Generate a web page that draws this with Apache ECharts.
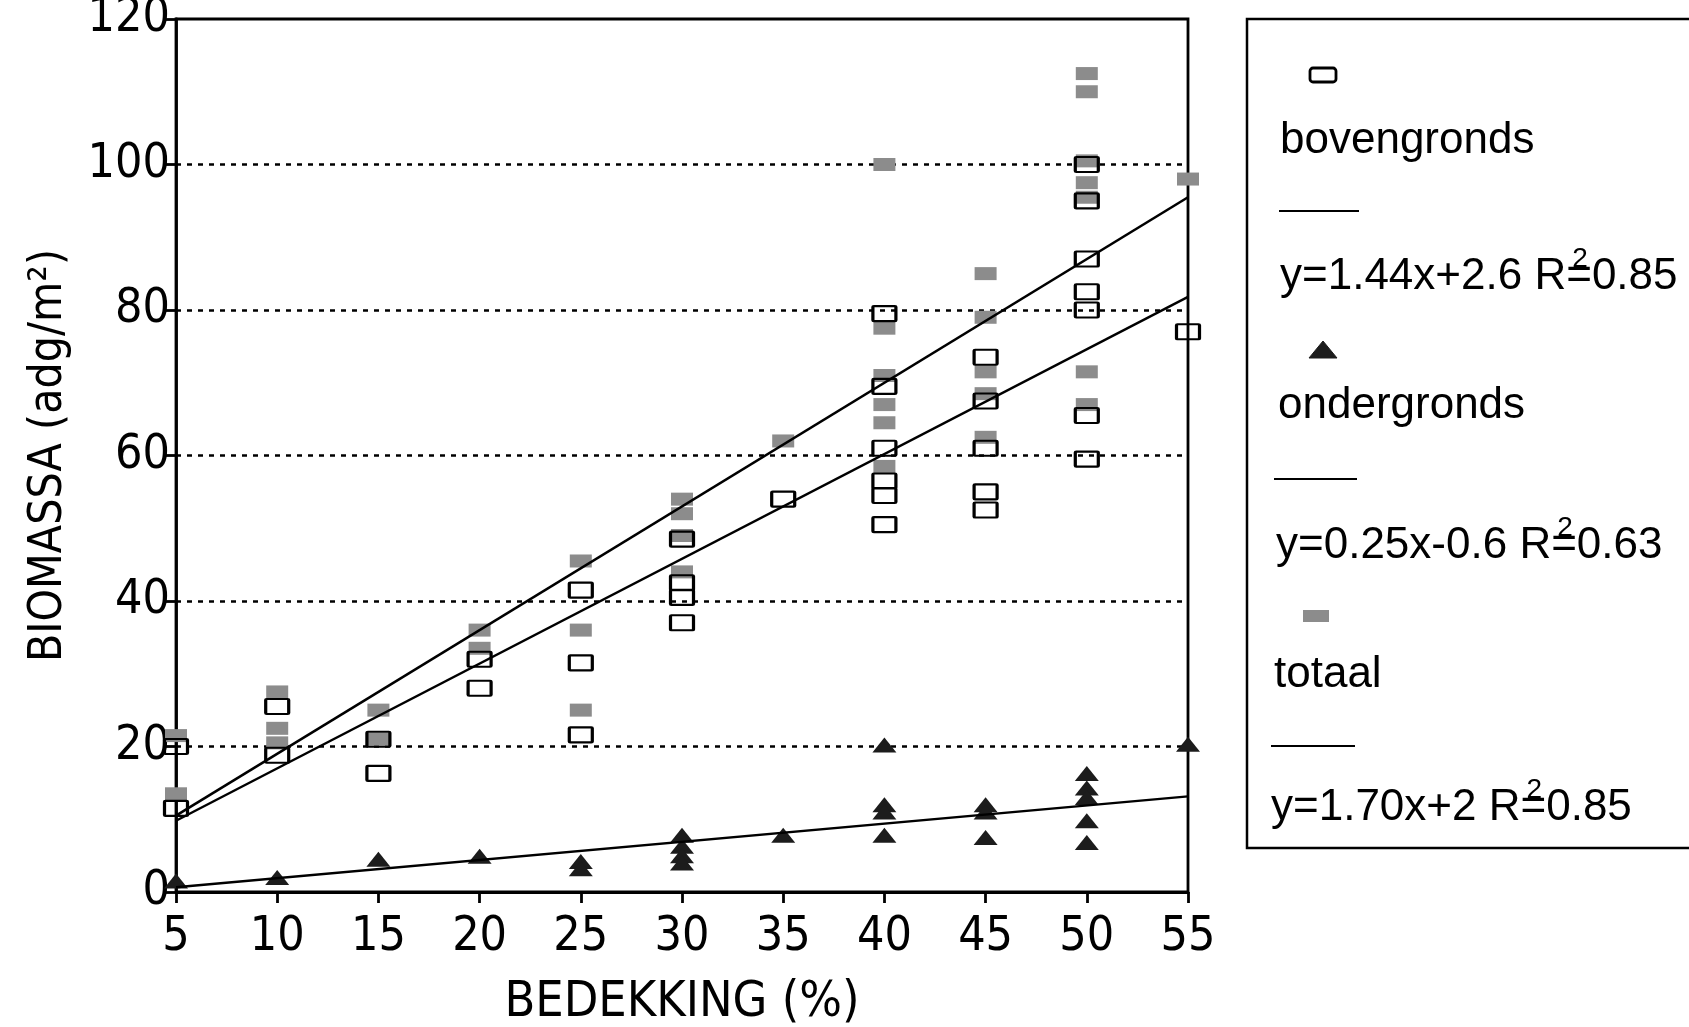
<!DOCTYPE html>
<html>
<head>
<meta charset="utf-8">
<script src="https://cdn.jsdelivr.net/npm/echarts@6/dist/echarts.min.js"></script>
<style>
  html, body { margin: 0; padding: 0; background: #fff; }
  #chart { width: 1689px; height: 1027px; }
</style>
</head>
<body>
<div id="chart"></div>
<script>
// ---- data ----
const xTicks = [5, 10, 15, 20, 25, 30, 35, 40, 45, 50, 55];
const yTicks = [0, 20, 40, 60, 80, 100, 120];

const seriesNames = ['bovengronds', 'ondergronds', 'totaal'];
const equations = ['y=1.44x+2.6 R=0.85', 'y=0.25x-0.6 R=0.63', 'y=1.70x+2 R=0.85'];

const boven = [[5,20],[5,11.5],[10,25.5],[10,18.8],[15,21],[15,16.3],[20,32],[20,28],
  [25,41.5],[25,31.5],[25,21.6],[30,48.5],[30,42.5],[30,40.5],[30,37],[35,54],
  [40,79.5],[40,69.5],[40,61],[40,56.5],[40,54.5],[40,50.5],
  [45,73.5],[45,67.5],[45,61],[45,55],[45,52.5],
  [50,100],[50,95],[50,87],[50,82.5],[50,80],[50,65.5],[50,59.5],[55,77]];

const onder = [[5,1.5],[10,2],[15,4.5],[20,4.9],[25,4.2],[25,3.2],
  [30,7.8],[30,6.3],[30,5],[30,4],[35,7.8],[40,20.2],[40,12],[40,11],[40,7.8],
  [45,12],[45,11],[45,7.5],[50,16.3],[50,14.3],[50,13],[50,9.8],[50,6.8],[55,20.3]];

const totaal = [[5,21.5],[5,13.5],[10,27.5],[10,22.5],[10,20.5],[15,25],[15,21],
  [20,36],[20,33.5],[25,45.5],[25,36],[25,25],[30,54],[30,52],[30,49],[30,44],[35,62],
  [40,100],[40,77.5],[40,71],[40,67],[40,64.5],[40,58.5],
  [45,85],[45,79],[45,71.5],[45,68.5],[45,62.5],
  [50,112.5],[50,110],[50,100.5],[50,97.5],[50,95.5],[50,71.5],[50,67],[55,98]];

const fitBoven  = [[5, 9.8], [55, 81.8]];
const fitOnder  = [[5, 0.65], [55, 13.15]];
const fitTotaal = [[5, 10.5], [55, 95.5]];

// ---- styling ----
const NARROW = '"Liberation Sans Narrow", "Arial Narrow", "DejaVu Sans Condensed", sans-serif';
const SANS = '"Liberation Sans", Arial, Helvetica, sans-serif';
const GREY = '#8c8c8c';
const DARK = '#1c1c1c';
const BOX = 'path://M1,0 L23,0 Q24,0 24,1 L24,15 Q24,16 23,16 L1,16 Q0,16 0,15 L0,1 Q0,0 1,0 Z';

const chart = echarts.init(document.getElementById('chart'), null, { renderer: 'canvas' });

// legend (drawn as graphic, layout: marker / name / line / equation)
const mctx = document.createElement('canvas').getContext('2d');
const legFont = '44px ' + SANS;
mctx.font = legFont;

const legRows = [
  { mk: [1323, 75], nameY: 141, nameX: 1280, line: [1279, 1359, 211], eqX: 1280, eqY: 277 },
  { mk: [1323, 350], nameY: 406, nameX: 1278, line: [1274, 1357, 479], eqX: 1276, eqY: 546 },
  { mk: [1316, 616], nameY: 675, nameX: 1274, line: [1271, 1355, 746], eqX: 1271, eqY: 808 }
];
const markerShapes = [
  { type: 'rect', shape: { x: -13, y: -7, width: 26, height: 14, r: 3 }, style: { fill: 'none', stroke: '#000', lineWidth: 2.8 } },
  { type: 'polygon', shape: { points: [[0, -9], [14, 8], [-14, 8]] }, style: { fill: DARK, stroke: DARK, lineWidth: 1 } },
  { type: 'rect', shape: { x: -13, y: -6, width: 26, height: 12 }, style: { fill: GREY } }
];
const graphics = [{
  type: 'rect', shape: { x: 1247, y: 19, width: 470, height: 829 },
  style: { fill: 'none', stroke: '#000', lineWidth: 2.5 }, z: 10
}];
legRows.forEach((r, i) => {
  const m = Object.assign({}, markerShapes[i], { x: r.mk[0], y: r.mk[1], z: 10 });
  graphics.push(m);
  graphics.push({ type: 'text', x: r.nameX, y: r.nameY, z: 10,
    style: { text: seriesNames[i], font: legFont, fill: '#000', align: 'left', verticalAlign: 'middle' } });
  graphics.push({ type: 'line', z: 10, shape: { x1: r.line[0], y1: r.line[2], x2: r.line[1], y2: r.line[2] },
    style: { stroke: '#000', lineWidth: 2 } });
  graphics.push({ type: 'text', x: r.eqX, y: r.eqY, z: 10,
    style: { text: equations[i], font: legFont, fill: '#000', align: 'left', verticalAlign: 'middle' } });
  const pre = equations[i].slice(0, equations[i].indexOf('R') + 1);
  const wPre = mctx.measureText(pre).width;
  const wEq = mctx.measureText('=').width;
  graphics.push({ type: 'text', x: r.eqX + wPre + wEq / 2 + 1, y: r.eqY - 4, z: 10,
    style: { text: '2', font: '28px ' + SANS, fill: '#000', align: 'center', verticalAlign: 'bottom' } });
});

const option = {
  backgroundColor: '#fff',
  animation: false,
  grid: { left: 176, right: 501, top: 19, bottom: 135, containLabel: false, outerBoundsMode: 'none',
    show: true, borderColor: '#000', borderWidth: 2.8, backgroundColor: 'transparent' },
  xAxis: {
    type: 'value', min: 5, max: 55, interval: 5,
    name: 'BEDEKKING (%)', nameLocation: 'middle', nameGap: 86,
    nameTextStyle: { fontFamily: NARROW, fontSize: 50, color: '#000' },
    axisLine: { show: true, onZero: false, lineStyle: { color: '#000', width: 2.8 } },
    axisTick: { show: true, length: 11, lineStyle: { color: '#000', width: 2.8 } },
    axisLabel: { fontFamily: NARROW, fontSize: 48, color: '#000', margin: 22,
      formatter: v => xTicks.includes(v) ? String(v) : '' },
    splitLine: { show: false }
  },
  yAxis: {
    type: 'value', min: 0, max: 120, interval: 20,
    name: 'BIOMASSA (adg/m²)', nameLocation: 'middle', nameGap: 104,
    nameTextStyle: { fontFamily: NARROW, fontSize: 46, color: '#000' },
    axisLine: { show: true, onZero: false, lineStyle: { color: '#000', width: 2.8 } },
    axisTick: { show: true, length: 11, lineStyle: { color: '#000', width: 2.8 } },
    axisLabel: { fontFamily: NARROW, fontSize: 48, color: '#000', margin: 6,
      formatter: v => yTicks.includes(v) ? String(v) : '' },
    splitLine: { show: true, showMinLine: false, showMaxLine: false,
      lineStyle: { color: '#000', width: 2.5, type: [5, 6] } }
  },
  series: [
    { name: 'totaal', type: 'scatter', data: totaal, symbol: 'rect', symbolSize: [22, 13],
      itemStyle: { color: GREY, opacity: 1 }, z: 2 },
    { name: 'bovengronds', type: 'scatter', data: boven, symbol: BOX, symbolSize: [23, 15],
      symbolKeepAspect: false,
      itemStyle: { color: 'rgba(0,0,0,0)', borderColor: '#000', borderWidth: 2.6, opacity: 1 }, z: 3 },
    { name: 'ondergronds', type: 'scatter', data: onder, symbol: 'triangle', symbolSize: [24, 15],
      itemStyle: { color: DARK, opacity: 1 }, z: 4 },
    { name: 'fit bovengronds', type: 'line', data: fitBoven, symbol: 'none', z: 5,
      lineStyle: { color: '#000', width: 2.4 } },
    { name: 'fit ondergronds', type: 'line', data: fitOnder, symbol: 'none', z: 5,
      lineStyle: { color: '#000', width: 2.4 } },
    { name: 'fit totaal', type: 'line', data: fitTotaal, symbol: 'none', z: 5,
      lineStyle: { color: '#000', width: 2.6 } }
  ],
  graphic: graphics
};
chart.setOption(option);
</script>
</body>
</html>
